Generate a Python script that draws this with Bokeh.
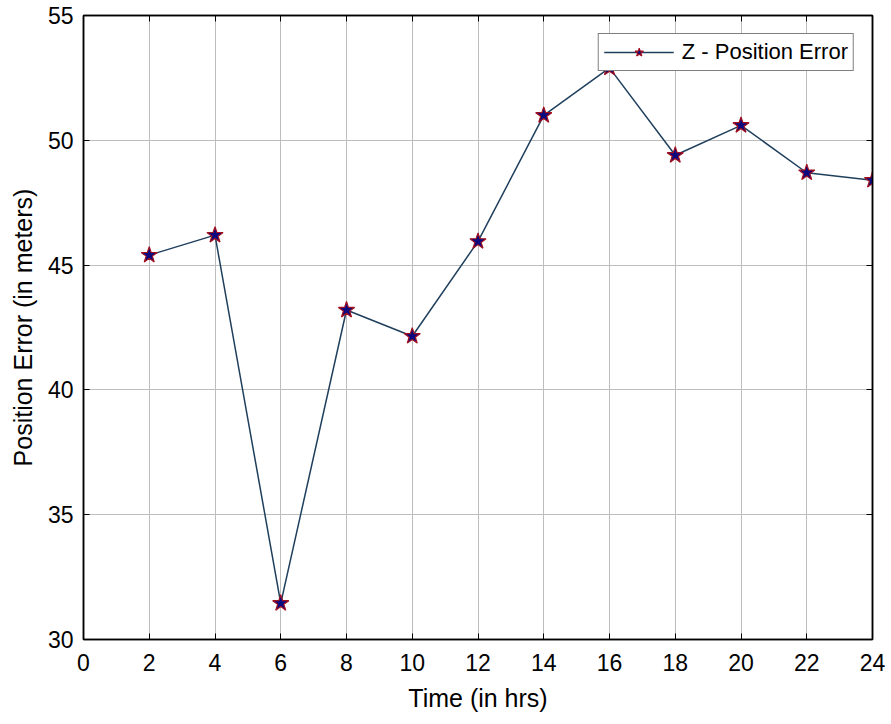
from bokeh.plotting import figure
from bokeh.embed import file_html
from bokeh.resources import INLINE
from bokeh.models import LinearAxis, FixedTicker, Range1d

hours = [2, 4, 6, 8, 10, 12, 14, 16, 18, 20, 22, 24]
z_error = [45.4, 46.2, 31.45, 43.2, 42.15, 45.95, 51.0, 52.9, 49.4, 50.6, 48.7, 48.4]
x_ticks = [0, 2, 4, 6, 8, 10, 12, 14, 16, 18, 20, 22, 24]
y_ticks = [30, 35, 40, 45, 50, 55]

FONT = "Liberation Sans"

p = figure(width=891, height=724, output_backend="svg", toolbar_location=None,
           x_range=Range1d(0, 24), y_range=Range1d(30, 55),
           min_border_left=83, min_border_right=19, min_border_top=15, min_border_bottom=85)

p.outline_line_color = "black"
p.outline_line_width = 1.5

p.line(hours, z_error, line_color="#1f3f5c", line_width=1.5, legend_label="Z - Position Error")
p.scatter(hours, z_error, marker="star", size=17, fill_color="#0a0a80",
          line_color="#a01020", line_width=1.2, legend_label="Z - Position Error")

for ax in (p.xaxis[0], p.yaxis[0]):
    ax.major_tick_in = 6
    ax.major_tick_out = 0
    ax.minor_tick_line_color = None
    ax.axis_line_color = "black"
    ax.axis_line_width = 1.5
    ax.major_label_text_font = FONT
    ax.major_label_text_font_size = "23px"
    ax.major_label_text_color = "black"
    ax.axis_label_text_font = FONT
    ax.axis_label_text_font_size = "25px"
    ax.axis_label_text_font_style = "normal"
    ax.axis_label_text_color = "black"

p.xaxis.ticker = FixedTicker(ticks=x_ticks)
p.yaxis.ticker = FixedTicker(ticks=y_ticks)
p.xaxis.axis_label = "Time (in hrs)"
p.yaxis.axis_label = "Position Error (in meters)"
p.xaxis.major_label_standoff = 14
p.yaxis.major_label_standoff = 10
p.xaxis.axis_label_standoff = 10
p.yaxis.axis_label_standoff = 8

# box-style ticks on top and right (labels hidden)
top = LinearAxis(ticker=FixedTicker(ticks=x_ticks), major_label_text_color=None,
                 major_tick_in=6, major_tick_out=0, minor_tick_line_color=None,
                 axis_line_color="black", axis_line_width=1.5, major_label_standoff=0)
right = LinearAxis(ticker=FixedTicker(ticks=y_ticks), major_label_text_color=None,
                   major_tick_in=6, major_tick_out=0, minor_tick_line_color=None,
                   axis_line_color="black", axis_line_width=1.5, major_label_standoff=0)
p.add_layout(top, "above")
p.add_layout(right, "right")

p.xgrid.ticker = FixedTicker(ticks=x_ticks)
p.ygrid.ticker = FixedTicker(ticks=y_ticks)
p.grid.grid_line_color = "#bdbdbd"
p.grid.grid_line_width = 1

leg = p.legend[0]
leg.location = "top_right"
leg.margin = 18
leg.border_line_color = "black"
leg.border_line_width = 1
leg.background_fill_color = "white"
leg.background_fill_alpha = 1
leg.label_text_font = FONT
leg.label_text_font_size = "22px"
leg.label_text_color = "black"
leg.glyph_width = 70
leg.glyph_height = 22
leg.padding = 5
leg.spacing = 0
leg.label_standoff = 8

open("out.html", "w").write(file_html(p, INLINE))
